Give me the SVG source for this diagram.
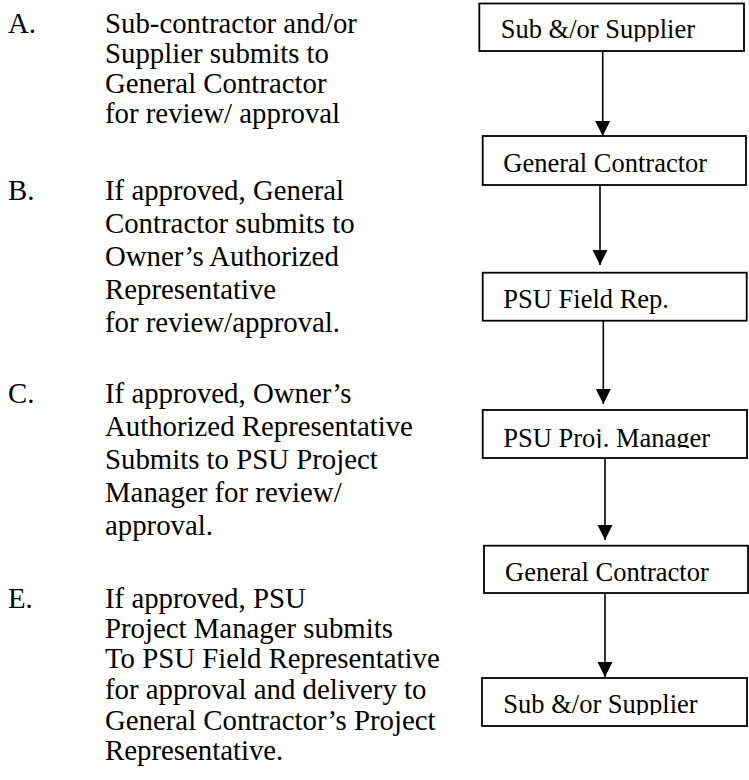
<svg xmlns="http://www.w3.org/2000/svg" width="749" height="780" viewBox="0 0 749 780">
<style>
  .t { font-family: "Liberation Serif", "Times New Roman", serif; font-size: 28.8px; fill: #000; }
  .bt { font-family: "Liberation Serif", "Times New Roman", serif; font-size: 26.5px; fill: #000; }
  .box { fill: #fff; stroke: #000; stroke-width: 1.8; }
  .conn { stroke: #000; stroke-width: 1.6; fill: none; }
</style>
<defs>
  <marker id="ah" markerUnits="userSpaceOnUse" markerWidth="16" markerHeight="16" viewBox="0 0 16 16" refX="15" refY="8" orient="auto">
    <path d="M0,0.5 L15,8 L0,15.5 Z" fill="#000"/>
  </marker>
  <clipPath id="c1"><rect x="480" y="4" width="264" height="37.7"/></clipPath>
  <clipPath id="c4"><rect x="483" y="410" width="264" height="38"/></clipPath>
  <clipPath id="c6"><rect x="482" y="678" width="265" height="37"/></clipPath>
</defs>

<g id="steps">
  <text class="t" x="8" y="33">A.</text>
  <text class="t" x="105" y="33">Sub-contractor and/or</text>
  <text class="t" x="105" y="63">Supplier submits to</text>
  <text class="t" x="105" y="93">General Contractor</text>
  <text class="t" x="105" y="123">for review/ approval</text>

  <text class="t" x="8" y="200">B.</text>
  <text class="t" x="105" y="200">If approved, General</text>
  <text class="t" x="105" y="233">Contractor submits to</text>
  <text class="t" x="105" y="266">Owner’s Authorized</text>
  <text class="t" x="105" y="299">Representative</text>
  <text class="t" x="105" y="332">for review/approval.</text>

  <text class="t" x="8" y="403">C.</text>
  <text class="t" x="105" y="403">If approved, Owner’s</text>
  <text class="t" x="105" y="436">Authorized Representative</text>
  <text class="t" x="105" y="469">Submits to PSU Project</text>
  <text class="t" x="105" y="502">Manager for review/</text>
  <text class="t" x="105" y="535">approval.</text>

  <text class="t" x="8" y="608">E.</text>
  <text class="t" x="105" y="608">If approved, PSU</text>
  <text class="t" x="105" y="638">Project Manager submits</text>
  <text class="t" x="105" y="668">To PSU Field Representative</text>
  <text class="t" x="105" y="699">for approval and delivery to</text>
  <text class="t" x="105" y="730">General Contractor’s Project</text>
  <text class="t" x="105" y="760">Representative.</text>
</g>

<g id="connectors">
  <line class="conn" x1="602.7" y1="51" x2="602.7" y2="136" marker-end="url(#ah)"/>
  <line class="conn" x1="600" y1="185" x2="600" y2="265" marker-end="url(#ah)"/>
  <line class="conn" x1="603.3" y1="321" x2="603.3" y2="404" marker-end="url(#ah)"/>
  <line class="conn" x1="605" y1="458" x2="605" y2="540" marker-end="url(#ah)"/>
  <line class="conn" x1="605" y1="593" x2="605" y2="677" marker-end="url(#ah)"/>
</g>

<g id="node-sub1">
  <rect class="box" x="479.3" y="3.5" width="264.7" height="47.5"/>
  <text class="bt" x="500.7" y="38.3" clip-path="url(#c1)">Sub &amp;/or Supplier</text>
</g>
<g id="node-gc1">
  <rect class="box" x="482.7" y="136" width="263.3" height="49"/>
  <text class="bt" x="503.3" y="172">General Contractor</text>
</g>
<g id="node-fieldrep">
  <rect class="box" x="482.7" y="272.7" width="264" height="48"/>
  <text class="bt" x="503.3" y="308">PSU Field Rep.</text>
</g>
<g id="node-projmgr">
  <rect class="box" x="482.7" y="410" width="264.3" height="48"/>
  <text class="bt" x="503.3" y="447" clip-path="url(#c4)">PSU Proj. Manager</text>
</g>
<g id="node-gc2">
  <rect class="box" x="484" y="545.7" width="264" height="47.3"/>
  <text class="bt" x="505" y="580.6">General Contractor</text>
</g>
<g id="node-sub2">
  <rect class="box" x="482" y="678" width="265" height="48"/>
  <text class="bt" x="503.3" y="712.7" clip-path="url(#c6)">Sub &amp;/or Supplier</text>
</g>
</svg>
